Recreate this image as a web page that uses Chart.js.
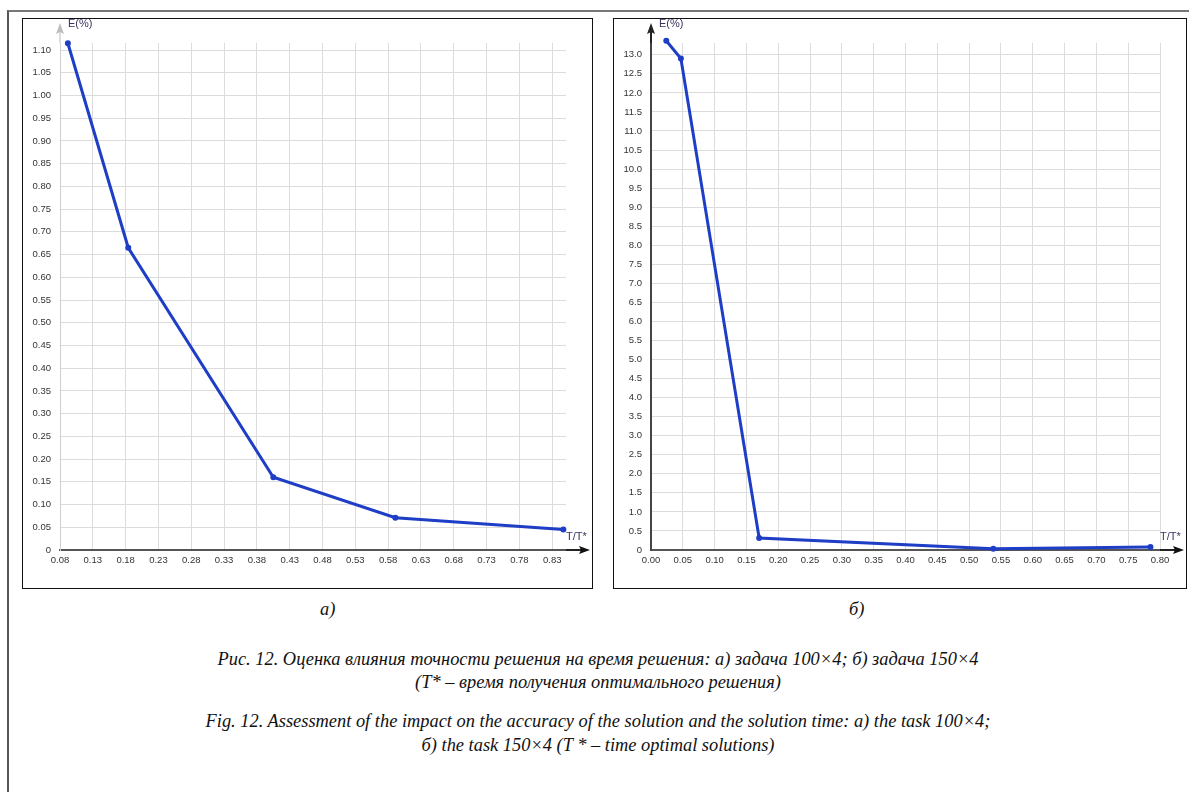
<!DOCTYPE html>
<html>
<head>
<meta charset="utf-8">
<script src="https://cdn.jsdelivr.net/npm/chart.js"></script>
<style>
  body { margin: 0; background: #fff; width: 1189px; height: 792px; overflow: hidden; position: relative; }
  .frame { position: absolute; left: 7px; top: 10px; width: 1200px; height: 800px; border-left: 2px solid #555; border-top: 2px solid #777; }
  .panel { position: absolute; border: 1px solid #111; background: #fff; }
  .panel canvas { position: absolute; left: 0; top: 0; }
  .cap { position: absolute; font-family: "Liberation Serif", serif; font-style: italic; font-size: 18.4px; color: #111; white-space: nowrap; }
  .center { left: 0; width: 1196px; text-align: center; }
</style>
</head>
<body>
<div class="frame"></div>
<div class="panel" style="left:22px; top:18px; width:569px; height:569px;"><canvas id="chart-a" width="569" height="569"></canvas></div>
<div class="panel" style="left:613px; top:18px; width:572px; height:569px;"><canvas id="chart-b" width="572" height="569"></canvas></div>

<div class="cap" style="left:320px; top:599px;">а)</div>
<div class="cap" style="left:849px; top:599px;">б)</div>
<div class="cap center" style="top:649px;">Рис. 12. Оценка влияния точности решения на время решения: а) задача 100×4; б) задача 150×4</div>
<div class="cap center" style="top:672px;">(T* – время получения оптимального решения)</div>
<div class="cap center" style="top:711px;">Fig. 12. Assessment of the impact on the accuracy of the solution and the solution time: a) the task 100×4;</div>
<div class="cap center" style="top:735px;">б) the task 150×4 (T * – time optimal solutions)</div>

<script>
// chart а) task 100x4
const timeA = [0.092, 0.184, 0.405, 0.591, 0.847];
const errorA = [1.115, 0.665, 0.16, 0.071, 0.045];
const xTicksA = [0.08, 0.13, 0.18, 0.23, 0.28, 0.33, 0.38, 0.43, 0.48, 0.53, 0.58, 0.63, 0.68, 0.73, 0.78, 0.83];
const yTicksA = [0, 0.05, 0.10, 0.15, 0.20, 0.25, 0.30, 0.35, 0.40, 0.45, 0.50, 0.55, 0.60, 0.65, 0.70, 0.75, 0.80, 0.85, 0.90, 0.95, 1.00, 1.05, 1.10];

// chart б) task 150x4
const timeB = [0.024, 0.047, 0.170, 0.538, 0.785];
const errorB = [13.37, 12.9, 0.315, 0.03, 0.08];
const xTicksB = [0, 0.05, 0.10, 0.15, 0.20, 0.25, 0.30, 0.35, 0.40, 0.45, 0.50, 0.55, 0.60, 0.65, 0.70, 0.75, 0.80];
const yTicksB = [0, 0.5, 1.0, 1.5, 2.0, 2.5, 3.0, 3.5, 4.0, 4.5, 5.0, 5.5, 6.0, 6.5, 7.0, 7.5, 8.0, 8.5, 9.0, 9.5, 10.0, 10.5, 11.0, 11.5, 12.0, 12.5, 13.0];

const tickFont = { family: 'Liberation Sans', size: 9.5 };
const lineBlue = '#1e3ec6';

// zero on the y axis is written as a plain 0
function fmtY(d) {
    return v => v === 0 ? '0' : v.toFixed(d);
}
function fmtX(d) {
    return v => v.toFixed(d);
}

// arrows on the axes and the axis names
function arrowsPlugin(yArrowColor) {
    return {
        id: 'arrows',
        afterDraw(chart) {
            const ctx = chart.ctx;
            const a = chart.chartArea;
            ctx.save();
            // x arrow
            ctx.strokeStyle = '#222';
            ctx.fillStyle = '#111';
            ctx.lineWidth = 2;
            ctx.beginPath();
            ctx.moveTo(a.right, a.bottom);
            ctx.lineTo(a.right + 16, a.bottom);
            ctx.stroke();
            ctx.beginPath();
            ctx.moveTo(a.right + 24, a.bottom);
            ctx.lineTo(a.right + 13, a.bottom - 4);
            ctx.lineTo(a.right + 15, a.bottom);
            ctx.lineTo(a.right + 13, a.bottom + 4);
            ctx.closePath();
            ctx.fill();
            // y arrow
            ctx.strokeStyle = yArrowColor;
            ctx.fillStyle = yArrowColor;
            ctx.lineWidth = yArrowColor === '#222' ? 2 : 1;
            ctx.beginPath();
            ctx.moveTo(a.left, a.top);
            ctx.lineTo(a.left, a.top - 12);
            ctx.stroke();
            ctx.beginPath();
            ctx.moveTo(a.left, a.top - 20);
            ctx.lineTo(a.left - 4, a.top - 9);
            ctx.lineTo(a.left, a.top - 11);
            ctx.lineTo(a.left + 4, a.top - 9);
            ctx.closePath();
            ctx.fill();
            // names
            ctx.fillStyle = '#3a3560';
            ctx.font = '11px "Liberation Sans"';
            ctx.textBaseline = 'middle';
            ctx.textAlign = 'left';
            ctx.fillText('E(%)', a.left + 8, a.top - 19);
            ctx.fillText('T/T*', a.right + 0, a.bottom - 13);
            ctx.restore();
        }
    };
}

function makeChart(id, xs, ys, xTicks, yTicks, xDec, yDec, xMin, xMax, yMax, yBorder, yArrow) {
    const ctx = document.getElementById(id).getContext('2d');
    return new Chart(ctx, {
        type: 'line',
        data: {
            datasets: [{
                data: xs.map((x, i) => ({ x: x, y: ys[i] })),
                borderColor: lineBlue,
                backgroundColor: lineBlue,
                borderWidth: 3,
                pointRadius: 1.5,
                pointHoverRadius: 1.5,
                tension: 0,
                clip: false
            }]
        },
        options: {
            responsive: false,
            animation: false,
            layout: { padding: { top: 24, right: 26, bottom: 0, left: 0 } },
            plugins: { legend: { display: false }, tooltip: { enabled: false } },
            scales: {
                x: {
                    type: 'linear',
                    min: xMin,
                    max: xMax,
                    afterBuildTicks: s => { s.ticks = xTicks.map(v => ({ value: v })); },
                    afterFit: s => { s.height = 38; },
                    ticks: {
                        font: tickFont,
                        color: '#333',
                        padding: 5,
                        maxRotation: 0,
                        autoSkip: false,
                        callback: fmtX(xDec)
                    },
                    grid: { color: '#dcdcdc', drawTicks: false },
                    border: { color: '#555', width: 2 }
                },
                y: {
                    type: 'linear',
                    min: 0,
                    max: yMax,
                    afterBuildTicks: s => { s.ticks = yTicks.map(v => ({ value: v })); },
                    afterFit: s => { s.width = 37; },
                    ticks: {
                        font: tickFont,
                        color: '#333',
                        padding: 9,
                        autoSkip: false,
                        callback: fmtY(yDec)
                    },
                    grid: { color: '#dcdcdc', drawTicks: false },
                    border: yBorder
                }
            }
        },
        plugins: [arrowsPlugin(yArrow)]
    });
}

makeChart('chart-a', timeA, errorA, xTicksA, yTicksA, 2, 2, 0.08, 0.851, 1.1155,
    { color: '#cfcfcf', width: 1 }, '#bdbdbd');
makeChart('chart-b', timeB, errorB, xTicksB, yTicksB, 2, 1, 0, 0.80, 13.31,
    { color: '#444', width: 2 }, '#222');
</script>
</body>
</html>
